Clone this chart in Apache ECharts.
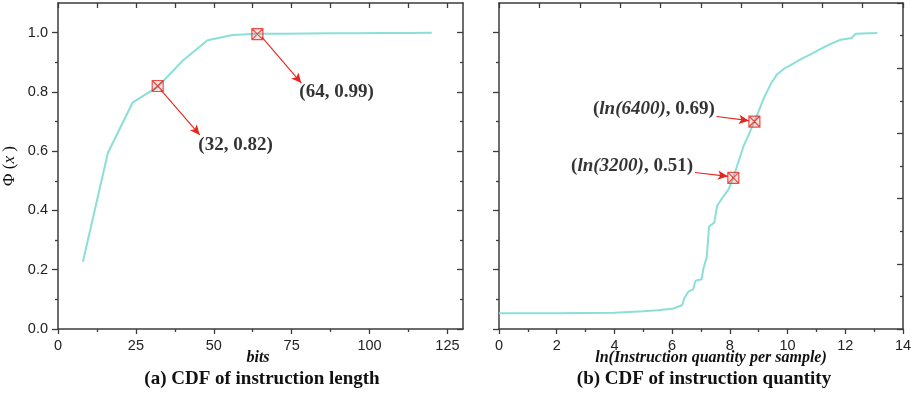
<!DOCTYPE html>
<html>
<head>
<meta charset="utf-8">
<script src="https://cdn.jsdelivr.net/npm/echarts@6/dist/echarts.min.js"></script>
<style>html,body{margin:0;padding:0;background:#fff}#c{width:915px;height:395px}</style>
</head>
<body>
<div id="c"></div>
<script>
// ---- Panel (a): CDF of instruction length ----
var lenBits = [8, 16, 24, 32, 40, 48, 56, 64, 72, 80, 88, 96, 104, 112, 120];
var lenCdf  = [0.227, 0.594, 0.765, 0.817, 0.905, 0.974, 0.992, 0.996, 0.996, 0.997, 0.998, 0.998, 0.999, 0.999, 1.0];

// ---- Panel (b): CDF of instruction quantity ----
var qtyLn  = [0, 1, 2, 3, 4, 5, 5.5, 6.0, 6.2, 6.35, 6.42, 6.56, 6.73, 6.81, 7.02, 7.08, 7.2, 7.28, 7.46, 7.56, 7.77, 7.95, 8.12, 8.3, 8.47, 8.65, 8.85, 9.0, 9.18, 9.45, 9.53, 9.62, 9.91, 10.03, 10.43, 10.78, 11.1, 11.45, 11.8, 12.22, 12.28, 12.36, 13.11];
var qtyCdf = [0.053, 0.053, 0.053, 0.054, 0.055, 0.060, 0.063, 0.068, 0.075, 0.081, 0.104, 0.126, 0.134, 0.163, 0.168, 0.202, 0.244, 0.346, 0.359, 0.416, 0.447, 0.470, 0.511, 0.565, 0.616, 0.655, 0.700, 0.735, 0.780, 0.833, 0.843, 0.858, 0.881, 0.886, 0.909, 0.926, 0.943, 0.960, 0.975, 0.982, 0.988, 0.996, 0.999];

// ---- Highlighted points & annotations ----
var markA = [[32, 0.82], [64, 0.995]];
var markB = [[8.12, 0.51], [8.85, 0.70]];
var labelA = [[57.0, 0.622, '(32, 0.82)'], [89.4, 0.80, '(64, 0.99)']];
var labelB = [[5.37, 0.742, '(', 'ln(6400)', ', 0.69)'], [4.61, 0.551, '(', 'ln(3200)', ', 0.51)']];
var arrowA = [[[33.0, 0.807], [45.5, 0.655]], [[65.4, 0.986], [78.1, 0.83]]];
var arrowB = [[[7.54, 0.717], [8.66, 0.703]], [[6.79, 0.528], [7.93, 0.515]]];

// ---- Tick values ----
var aXMajor = [0, 25, 50, 75, 100, 125];
var aXMinor = [12.5, 37.5, 62.5, 87.5, 112.5];
var aXTop   = [0, 12.5, 25, 37.5, 50, 62.5, 75, 87.5, 100, 112.5, 125];
var yMajor  = [0, 0.2, 0.4, 0.6, 0.8, 1.0];
var yMinor  = [0.1, 0.3, 0.5, 0.7, 0.9];
var bXMajor = [0, 2, 4, 6, 8, 10, 12, 14];
var bXMinor = [1, 3, 5, 7, 9, 11, 13];
var bXTop   = [0, 1, 2, 3, 4, 5, 6, 7, 8, 9, 10];
var bRMajor = [0, 0.2, 0.4, 0.6, 0.8, 1.0];
var bRMinor = [0.1, 0.3, 0.5, 0.7, 0.9];

function zip(xs, ys) { return xs.map(function (x, i) { return [x, ys[i]]; }); }

var AX = '#3c3c3c';
var LINE = '#8adfd8';
var RED = '#e3261f';

function axis(o) {
  var a = {
    type: 'value', gridIndex: o.grid, position: o.pos, min: o.min, max: o.max,
    splitLine: { show: false },
    axisLine: { show: !!o.line, onZero: false, lineStyle: { color: AX, width: 1.5 } },
    axisTick: { show: !!o.ticks, customValues: o.ticks, inside: !!o.inside, length: o.len || 5, lineStyle: { color: AX, width: 1.3 } },
    axisLabel: { show: !!o.labels, customValues: o.labels, margin: o.margin || 9, color: '#222', fontFamily: 'Liberation Sans, Arial, sans-serif', fontSize: 14.5, formatter: o.fmt },
    minorTick: { show: false }
  };
  if (o.name) {
    a.name = o.name; a.nameLocation = 'middle'; a.nameGap = o.nameGap; a.nameRotate = o.nameRotate;
    a.nameTextStyle = o.nameTextStyle;
  }
  return a;
}

var markerSym = 'path://M0,0H10V10H0Z M0,0L10,10 M10,0L0,10';
var oneDec = function (v) { return Number(v).toFixed(1); };

var option = {
  animation: false,
  backgroundColor: '#fff',
  grid: [
    { left: 58, top: 3, width: 405, height: 326 },
    { left: 499, top: 3, width: 404, height: 326 }
  ],
  xAxis: [
    axis({ grid: 0, pos: 'bottom', min: 0, max: 130, line: true, ticks: aXMajor, labels: aXMajor, len: 5, margin: 9 }),
    axis({ grid: 0, pos: 'bottom', min: 0, max: 130, ticks: aXMinor, len: 3 }),
    axis({ grid: 0, pos: 'top', min: 0, max: 130, line: true, ticks: aXTop, inside: true, len: 5 }),
    axis({ grid: 1, pos: 'bottom', min: 0, max: 14, line: true, ticks: bXMajor, labels: bXMajor, len: 5, margin: 9 }),
    axis({ grid: 1, pos: 'bottom', min: 0, max: 14, ticks: bXMinor, len: 3 }),
    axis({ grid: 1, pos: 'top', min: 0, max: 10, line: true, ticks: bXTop, inside: true, len: 5 })
  ],
  yAxis: [
    axis({ grid: 0, pos: 'left', min: 0, max: 1.1, line: true, ticks: yMajor, labels: yMajor, len: 6, margin: 10, fmt: oneDec,
      name: '{a|Φ (}{i|x}{a| )}', nameGap: 40, nameRotate: 90,
      nameTextStyle: { rich: { a: { fontFamily: 'Liberation Serif, serif', fontSize: 17, color: '#111' }, i: { fontFamily: 'Liberation Serif, serif', fontStyle: 'italic', fontSize: 17, color: '#111' } } } }),
    axis({ grid: 0, pos: 'left', min: 0, max: 1.1, ticks: yMinor, len: 3 }),
    axis({ grid: 0, pos: 'right', min: 0, max: 1.1, line: true, ticks: yMajor, inside: true, len: 6 }),
    axis({ grid: 0, pos: 'right', min: 0, max: 1.1, ticks: yMinor, inside: true, len: 3 }),
    axis({ grid: 1, pos: 'left', min: 0, max: 1.1, line: true, ticks: yMajor, len: 6 }),
    axis({ grid: 1, pos: 'left', min: 0, max: 1.1, ticks: yMinor, len: 3 }),
    axis({ grid: 1, pos: 'right', min: 0, max: 1, line: true, ticks: bRMajor, inside: true, len: 6 }),
    axis({ grid: 1, pos: 'right', min: 0, max: 1, ticks: bRMinor, inside: true, len: 3 })
  ],
  series: [
    { type: 'line', xAxisIndex: 0, yAxisIndex: 0, data: zip(lenBits, lenCdf), symbol: 'none',
      lineStyle: { color: LINE, width: 2 }, z: 2 },
    { type: 'line', xAxisIndex: 3, yAxisIndex: 4, data: zip(qtyLn, qtyCdf), symbol: 'none',
      lineStyle: { color: LINE, width: 2 }, z: 2 },
    { type: 'scatter', xAxisIndex: 0, yAxisIndex: 0, data: markA, symbol: markerSym, symbolSize: 11,
      itemStyle: { color: 'rgba(240,80,70,0.22)', borderColor: RED, borderWidth: 1.2 }, z: 4,
      markLine: { silent: true, symbol: ['none', 'arrow'], symbolSize: [7, 10], label: { show: false },
        lineStyle: { color: RED, width: 1.1, type: 'solid' },
        data: arrowA.map(function (a) { return [{ coord: a[0] }, { coord: a[1] }]; }) } },
    { type: 'scatter', xAxisIndex: 3, yAxisIndex: 4, data: markB, symbol: markerSym, symbolSize: 11,
      itemStyle: { color: 'rgba(240,80,70,0.22)', borderColor: RED, borderWidth: 1.2 }, z: 4,
      markLine: { silent: true, symbol: ['none', 'arrow'], symbolSize: [7, 10], label: { show: false },
        lineStyle: { color: RED, width: 1.1, type: 'solid' },
        data: arrowB.map(function (a) { return [{ coord: a[0] }, { coord: a[1] }]; }) } },
    { type: 'scatter', xAxisIndex: 0, yAxisIndex: 0, symbolSize: 1, itemStyle: { color: 'rgba(0,0,0,0)' }, z: 5,
      data: labelA.map(function (l) { return { value: [l[0], l[1]], txt: l[2] }; }),
      label: { show: true, position: 'inside', formatter: function (p) { return p.data.txt; },
        textBorderWidth: 0, textBorderColor: 'transparent',
        fontFamily: 'Liberation Serif, serif', fontWeight: 'bold', fontSize: 19, color: '#000' } },
    { type: 'scatter', xAxisIndex: 3, yAxisIndex: 4, symbolSize: 1, itemStyle: { color: 'rgba(0,0,0,0)' }, z: 5,
      data: labelB.map(function (l) { return { value: [l[0], l[1]], a: l[2], i: l[3], b: l[4] }; }),
      label: { show: true, position: 'inside', textBorderWidth: 0, textBorderColor: 'transparent',
        formatter: function (p) { return '{b|' + p.data.a + '}{i|' + p.data.i + '}{b|' + p.data.b + '}'; },
        rich: {
          b: { fontFamily: 'Liberation Serif, serif', fontWeight: 'bold', fontSize: 19, color: '#000', textBorderWidth: 0 },
          i: { fontFamily: 'Liberation Serif, serif', fontWeight: 'bold', fontStyle: 'italic', fontSize: 19, color: '#000', textBorderWidth: 0 }
        } } }
  ],
  graphic: [
    { type: 'text', x: 258, y: 358, style: { text: 'bits', font: 'italic bold 16px "Liberation Serif", serif', fill: '#111', align: 'center', verticalAlign: 'middle', textAlign: 'center', textVerticalAlign: 'middle' } },
    { type: 'text', x: 262, y: 379, style: { text: '(a) CDF of instruction length', font: 'bold 19px "Liberation Serif", serif', fill: '#111', align: 'center', verticalAlign: 'middle', textAlign: 'center', textVerticalAlign: 'middle' } },
    { type: 'text', x: 711, y: 358, style: { text: 'ln(Instruction quantity per sample)', font: 'italic bold 16px "Liberation Serif", serif', fill: '#111', align: 'center', verticalAlign: 'middle', textAlign: 'center', textVerticalAlign: 'middle' } },
    { type: 'text', x: 704, y: 379, style: { text: '(b) CDF of instruction quantity', font: 'bold 19px "Liberation Serif", serif', fill: '#111', align: 'center', verticalAlign: 'middle', textAlign: 'center', textVerticalAlign: 'middle' } }
  ]
};
var chart = echarts.init(document.getElementById('c'));
chart.setOption(option);
</script>
</body>
</html>
